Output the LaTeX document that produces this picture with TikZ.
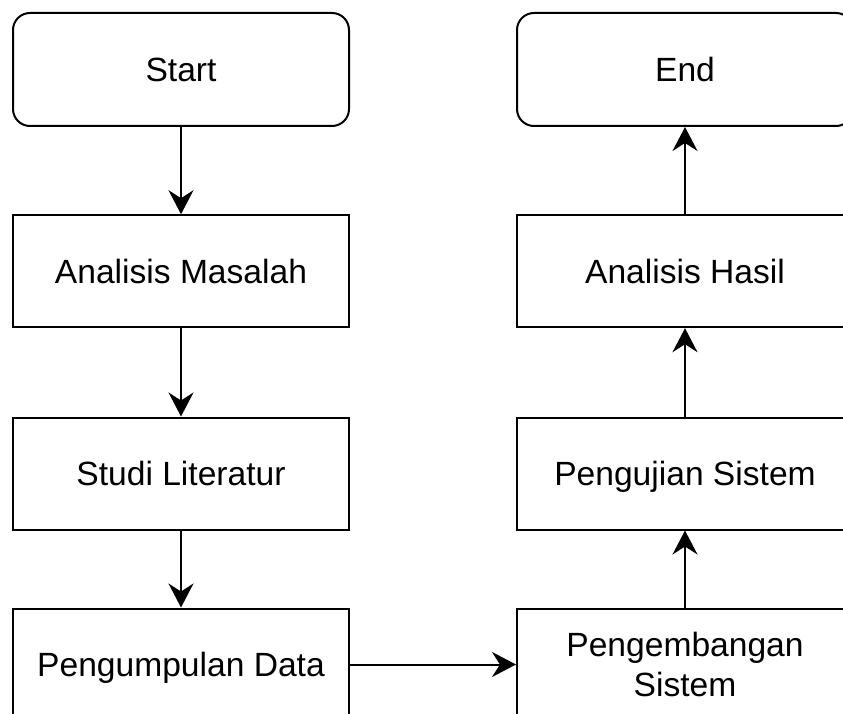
\documentclass[tikz,border=0pt]{standalone}
\usepackage{fontspec}
\setmainfont{Liberation Sans}
\usetikzlibrary{arrows.meta}
\begin{document}
\begin{tikzpicture}[x=1pt,y=-1pt,
  stepbox/.style={draw=black, line width=2pt, fill=white, minimum width=336pt, minimum height=112pt, inner sep=0pt,
    font=\fontsize{33.6pt}{40.3pt}\selectfont, align=center},
  onel/.style={text height=24pt, text depth=0pt},
  termbox/.style={stepbox, rounded corners=17pt},
  flow/.style={line width=2pt, -{Stealth[length=24pt, width=25pt, inset=8pt]}}]
\useasboundingbox (0,0) rectangle (843,714);
\begin{scope}
\clip (0,0) rectangle (843,714);
\node[termbox, onel, minimum height=113pt] (start) at (181,69.5) {Start};
\node[stepbox, onel] (am) at (181,271.2) {Analisis Masalah};
\node[stepbox, onel] (sl) at (181,473.5) {Studi Literatur};
\node[stepbox, onel] (pd) at (181,664.5) {Pengumpulan Data};
\node[termbox, onel, minimum height=113pt] (end) at (685,69.5) {End};
\node[stepbox, onel] (ah) at (685,271.2) {Analisis Hasil};
\node[stepbox, onel] (ps) at (685,473.5) {Pengujian Sistem};
\node[stepbox] (pg) at (685,664.5) {Pengembangan\\Sistem};
\draw[flow] (start) -- (am);
\draw[flow] (am) -- (sl);
\draw[flow] (sl) -- (pd);
\draw[flow] (pd) -- (pg);
\draw[flow] (pg) -- (ps);
\draw[flow] (ps) -- (ah);
\draw[flow] (ah) -- (end);
\end{scope}
\end{tikzpicture}
\end{document}
